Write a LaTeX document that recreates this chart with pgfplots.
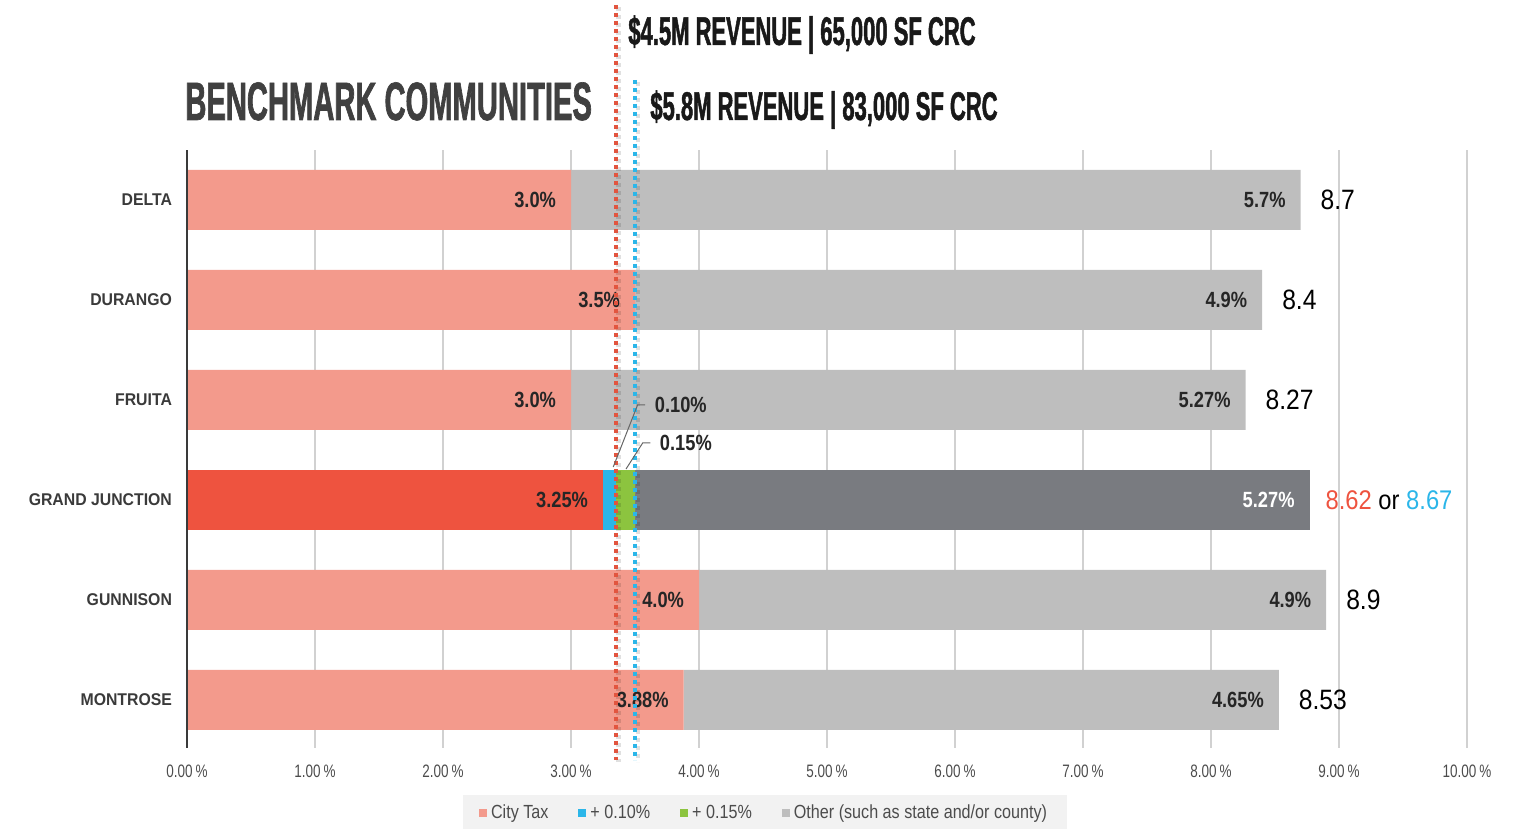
\documentclass[border=0pt]{standalone}
\usepackage{fontspec}
\setmainfont{Liberation Sans}
\newfontfamily\titlefont[FakeStretch=0.54,FakeBold=1.2]{Liberation Sans}
\newfontfamily\annfont[FakeStretch=0.55,FakeBold=1.2]{Liberation Sans}
\newfontfamily\valfont[FakeStretch=0.83]{Liberation Sans}
\newfontfamily\catfont[FakeStretch=0.93]{Liberation Sans}
\newfontfamily\lightfont[FakeStretch=0.75]{Liberation Sans}
\newfontfamily\legfont[FakeStretch=0.85]{Liberation Sans}
\newfontfamily\totfont[FakeStretch=0.88]{Liberation Sans}
\usepackage{pgfplots}
\pgfplotsset{compat=1.18}
\definecolor{citytax}{HTML}{F39A8C}
\definecolor{gjred}{HTML}{EE533F}
\definecolor{plusten}{HTML}{2BB6E9}
\definecolor{plusfif}{HTML}{8CC43F}
\definecolor{other}{HTML}{BEBEBE}
\definecolor{gjgray}{HTML}{797B80}
\definecolor{dotred}{HTML}{E2553F}
\definecolor{catgray}{HTML}{3A3A3A}
\definecolor{titlegray}{HTML}{404040}
\tikzset{val/.style={anchor=east, xshift=-4pt, font=\valfont\bfseries\fontsize{11}{12}\selectfont, text=black!85},
         tot/.style={anchor=west, xshift=6.5pt, font=\totfont\fontsize{14}{16}\selectfont, text=black},
         ann/.style={anchor=base west, inner sep=0pt, font=\annfont\bfseries\fontsize{20}{24}\selectfont}}
\newcommand{\annotations}{%
% left axis line
\draw[line width=1.1pt, catgray] (axis cs:0,-0.48) -- (axis cs:0,5.5);
% value labels
\node[val] at (axis cs:3.0,5) {3.0\%};
\node[val] at (axis cs:3.5,4) {3.5\%};
\node[val] at (axis cs:3.0,3) {3.0\%};
\node[val] at (axis cs:3.25,2) {3.25\%};
\node[val] at (axis cs:4.0,1) {4.0\%};
\node[val] at (axis cs:3.88,0) {3.88\%};
\node[val] at (axis cs:8.7,5) {5.7\%};
\node[val] at (axis cs:8.4,4) {4.9\%};
\node[val] at (axis cs:8.27,3) {5.27\%};
\node[val, text=white] at (axis cs:8.77,2) {5.27\%};
\node[val] at (axis cs:8.9,1) {4.9\%};
\node[val] at (axis cs:8.53,0) {4.65\%};
\node[tot] at (axis cs:8.7,5) {8.7};
\node[tot] at (axis cs:8.4,4) {8.4};
\node[tot] at (axis cs:8.27,3) {8.27};
\node[tot, xshift=-2pt, font=\totfont\fontsize{13.5}{16}\selectfont] at (axis cs:8.77,2) {\textcolor{gjred}{8.62} or \textcolor{plusten}{8.67}};
\node[tot] at (axis cs:8.9,1) {8.9};
\node[tot] at (axis cs:8.53,0) {8.53};
% vertical dotted lines (with soft shadow)
\draw[black, line width=2.4pt, dash pattern=on 2pt off 2pt, opacity=0.12] ([xshift=1.5pt,yshift=-1pt]axis cs:3.35,6.95) -- ([xshift=1.5pt,yshift=-1pt]axis cs:3.35,-0.6);
\draw[black, line width=2.4pt, dash pattern=on 2pt off 2pt, opacity=0.12] ([xshift=1.5pt,yshift=-1pt]axis cs:3.5,6.2) -- ([xshift=1.5pt,yshift=-1pt]axis cs:3.5,-0.6);
\draw[dotred, line width=2pt, dash pattern=on 2pt off 2pt] (axis cs:3.35,6.95) -- (axis cs:3.35,-0.6);
\draw[plusten, line width=2pt, dash pattern=on 2pt off 2pt] (axis cs:3.5,6.2) -- (axis cs:3.5,-0.6);
% leader lines and small labels
\draw[black!60, line width=0.5pt] (axis cs:3.58,2.95) -- (axis cs:3.52,2.95) -- (axis cs:3.33,2.33);
\draw[black!60, line width=0.5pt] (axis cs:3.62,2.57) -- (axis cs:3.56,2.57) -- (axis cs:3.43,2.31);
\node[anchor=west, font=\valfont\bfseries\fontsize{11}{12}\selectfont, text=black!85] at (axis cs:3.6,2.95) {0.10\%};
\node[anchor=west, font=\valfont\bfseries\fontsize{11}{12}\selectfont, text=black!85] at (axis cs:3.64,2.57) {0.15\%};
% title and annotations
\node[anchor=base west, inner sep=0pt, font=\titlefont\bfseries\fontsize{27}{30}\selectfont, text=titlegray] at (axis cs:-0.016,5.80) {BENCHMARK COMMUNITIES};
\node[ann, text=black!90] at (axis cs:3.445,6.55) {\$4.5M REVENUE | 65,000 SF CRC};
\node[ann, text=black!90] at (axis cs:3.617,5.80) {\$5.8M REVENUE | 83,000 SF CRC};
\coordinate (bbbl) at (axis cs:-1.461,-1.29);
\coordinate (bbtr) at (axis cs:10.461,7.0);
}
\begin{document}
\begin{tikzpicture}
\begin{axis}[
  name=ax, scale only axis, width=640pt, height=299pt,
  xbar stacked, bar width=30pt,
  xmin=0, xmax=10, ymin=-0.48, ymax=5.5,
  xtick={0,...,10},
  xticklabels={0.00\,\%,1.00\,\%,2.00\,\%,3.00\,\%,4.00\,\%,5.00\,\%,6.00\,\%,7.00\,\%,8.00\,\%,9.00\,\%,10.00\,\%},
  ytick={0,...,5},
  yticklabels={MONTROSE,GUNNISON,GRAND JUNCTION,FRUITA,DURANGO,DELTA},
  xmajorgrids, major grid style={draw=black!18, line width=0.6pt},
  major tick length=0pt,
  axis line style={draw=none},
  clip=false,
  xticklabel style={font=\lightfont\fontsize{9}{10}\selectfont, text=black!70, yshift=-5pt},
  yticklabel style={font=\catfont\bfseries\fontsize{8.5}{10}\selectfont, text=catgray, xshift=-4pt},
  legend style={at={(0.4516,-0.1087)}, anchor=center, draw=none, fill=black!5,
    font=\legfont\fontsize{9.5}{11}\selectfont, text=black!70, inner xsep=8pt, inner ysep=3pt,
    /tikz/every even column/.append style={column sep=13pt}},
  legend columns=4,
  legend image code/.code={\fill[#1] (0pt,-2pt) rectangle (4pt,2pt);},
  after end axis/.code={\annotations},
]
\addplot[fill=citytax, draw=none] coordinates {(3.88,0) (4.0,1) (0,2) (3.0,3) (3.5,4) (3.0,5)};
\addlegendentry{City Tax}
\addplot[fill=gjred, draw=none, forget plot] coordinates {(0,0) (0,1) (3.25,2) (0,3) (0,4) (0,5)};
\addplot[fill=plusten, draw=none] coordinates {(0,0) (0,1) (0.10,2) (0,3) (0,4) (0,5)};
\addlegendentry{+ 0.10\%}
\addplot[fill=plusfif, draw=none] coordinates {(0,0) (0,1) (0.15,2) (0,3) (0,4) (0,5)};
\addlegendentry{+ 0.15\%}
\addplot[fill=other, draw=none] coordinates {(4.65,0) (4.9,1) (0,2) (5.27,3) (4.9,4) (5.7,5)};
\addlegendentry{Other (such as state and/or county)}
\addplot[fill=gjgray, draw=none, forget plot] coordinates {(0,0) (0,1) (5.27,2) (0,3) (0,4) (0,5)};
\end{axis}
\pgfresetboundingbox
\path[use as bounding box] (bbbl) rectangle (bbtr);
\end{tikzpicture}
\end{document}
